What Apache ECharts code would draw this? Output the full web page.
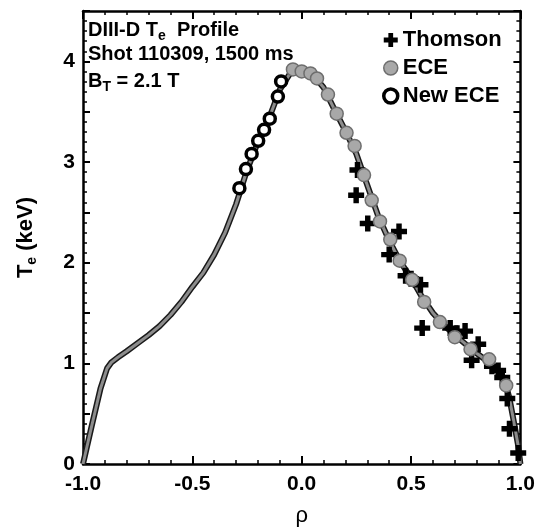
<!DOCTYPE html>
<html>
<head>
<meta charset="utf-8">
<script src="https://cdn.jsdelivr.net/npm/echarts@6/dist/echarts.min.js"></script>
<style>
html,body{margin:0;padding:0;background:#fff;}
#chart{width:538px;height:532px;}
</style>
</head>
<body>
<div id="chart"></div>
<script>
// Fitted profile curve
const fitRho = [-1.0,-0.96,-0.92,-0.89,-0.87,-0.84,-0.80,-0.75,-0.70,-0.65,-0.60,-0.55,-0.50,-0.45,-0.40,-0.35,-0.30,-0.25,-0.20,-0.15,-0.10,-0.05,0.0,0.05,0.10,0.15,0.20,0.25,0.30,0.35,0.40,0.45,0.50,0.55,0.60,0.65,0.70,0.75,0.80,0.85,0.90,0.93,0.95,0.97,0.99,1.0];
const fitTe  = [0.0,0.38,0.75,0.95,1.01,1.06,1.12,1.20,1.28,1.37,1.48,1.61,1.76,1.90,2.08,2.30,2.58,2.92,3.20,3.43,3.72,3.89,3.92,3.87,3.74,3.52,3.31,3.08,2.77,2.46,2.22,2.01,1.85,1.66,1.50,1.38,1.28,1.19,1.10,1.02,0.92,0.82,0.65,0.42,0.18,0.0];
// Thomson scattering
const thomsonRho = [0.255,0.249,0.302,0.445,0.400,0.475,0.500,0.543,0.551,0.679,0.710,0.747,0.807,0.777,0.870,0.898,0.917,0.940,0.950,0.990];
const thomsonTe  = [2.92,2.67,2.39,2.31,2.08,1.87,1.84,1.78,1.35,1.35,1.30,1.32,1.19,1.03,0.97,0.93,0.86,0.65,0.35,0.11];
// ECE
const eceRho = [-0.04,0.0,0.04,0.07,0.12,0.16,0.205,0.242,0.285,0.32,0.358,0.405,0.448,0.505,0.56,0.632,0.70,0.772,0.857,0.935];
const eceTe  = [3.92,3.90,3.88,3.83,3.67,3.48,3.29,3.16,2.87,2.62,2.41,2.23,2.02,1.83,1.61,1.41,1.26,1.14,1.04,0.78];
// New ECE
const newEceRho = [-0.285,-0.255,-0.229,-0.199,-0.172,-0.146,-0.109,-0.094];
const newEceTe  = [2.74,2.93,3.08,3.21,3.32,3.43,3.65,3.80];
// Axis ticks
const xTicks = [-1.0,-0.5,0.0,0.5,1.0];
const yTicks = [0,1,2,3,4];

const zip = (a,b) => a.map((v,i)=>[v,b[i]]);
const FONT = "'Liberation Sans', Arial, sans-serif";

const chart = echarts.init(document.getElementById('chart'), null, {renderer:'canvas'});

const axisLineStyle = {color:'#000', width:2.5};
function xAx(pos, labels){
  return {
    type:'value', min:-1, max:1, interval:0.5, position:pos,
    axisLine:{show:true, onZero:false, lineStyle:axisLineStyle},
    axisTick:{show:true, inside:true, length:8, lineStyle:{color:'#000', width:2}},
    minorTick:{show:true, splitNumber:5, length:4, lineStyle:{color:'#000', width:1.5}},
    splitLine:{show:false},
    axisLabel:{show:labels, margin:10, color:'#000', fontSize:21, fontWeight:'bold', fontFamily:FONT,
      formatter:v => xTicks.some(t=>Math.abs(t-v)<1e-9) ? v.toFixed(1) : ''},
    name: labels ? 'ρ' : '', nameLocation:'middle', nameGap:41,
    nameTextStyle:{color:'#000', fontSize:22, fontFamily:FONT}
  };
}
function yAx(pos, labels){
  return {
    type:'value', min:0, max:4.5, interval:0.5, position:pos,
    axisLine:{show:true, onZero:false, lineStyle:axisLineStyle},
    axisTick:{show:true, inside:true, length:7, lineStyle:{color:'#000', width:2}},
    minorTick:{show:true, splitNumber:5, length:4, lineStyle:{color:'#000', width:1.5}},
    splitLine:{show:false},
    axisLabel:{show:labels, margin:8, color:'#000', fontSize:21, fontWeight:'bold', fontFamily:FONT,
      formatter:v => yTicks.includes(v) ? String(v) : ''},
    name: labels ? 'T{sub|e} (keV)' : '', nameLocation:'middle', nameGap:46, nameRotate:90,
    nameTextStyle:{color:'#000', fontSize:22, fontWeight:'bold', fontFamily:FONT,
      rich:{sub:{fontSize:14, fontWeight:'bold', fontFamily:FONT, color:'#000', padding:[12,0,0,0], lineHeight:14}}}
  };
}

const plusPath = 'path://M33,0H67V33H100V67H67V100H33V67H0V33H33Z';

chart.setOption({
  animation:false,
  backgroundColor:'#fff',
  textStyle:{fontFamily:FONT},
  grid:{left:83, right:13, top:11, bottom:60, containLabel:false},
  xAxis:[xAx('bottom', true), xAx('top', false)],
  yAxis:[yAx('left', true), yAx('right', false)],
  legend:{
    data:[
      {name:'Thomson'},
      {name:'ECE', itemStyle:{borderWidth:1.5}},
      {name:'New ECE', itemStyle:{borderWidth:3.5, borderColor:'#000', color:'#fff'}}
    ],
    orient:'vertical', left:377, top:24,
    itemWidth:14, itemHeight:14, itemGap:6,
    textStyle:{color:'#000', fontSize:22, fontWeight:'bold', fontFamily:FONT, lineHeight:22},
    selectedMode:false
  },
  graphic:[
    {type:'text', left:88, top:17, silent:true,
      style:{text:'DIII-D T{sub|e}  Profile', fill:'#000', font:"bold 20px 'Liberation Sans', Arial",
        rich:{sub:{fontSize:14, fontWeight:'bold', fill:'#000', padding:[12,0,0,0], lineHeight:14}}}},
    {type:'text', left:88, top:44, silent:true,
      style:{text:'Shot 110309, 1500 ms', fill:'#000', font:"bold 20px 'Liberation Sans', Arial"}},
    {type:'text', left:88, top:68, silent:true,
      style:{text:'B{sub|T} = 2.1 T', fill:'#000', font:"bold 20px 'Liberation Sans', Arial",
        rich:{sub:{fontSize:14, fontWeight:'bold', fill:'#000', padding:[12,0,0,0], lineHeight:14}}}}
  ],
  series:[
    {name:'fit-outer', type:'line', data:zip(fitRho, fitTe), showSymbol:false, silent:true,
      lineStyle:{color:'#1a1a1a', width:6}, z:1},
    {name:'fit', type:'line', data:zip(fitRho, fitTe), showSymbol:false, silent:true,
      lineStyle:{color:'#8c8c8c', width:3}, z:2},
    {name:'Thomson', type:'scatter', data:zip(thomsonRho, thomsonTe), symbol:plusPath, symbolSize:16,
      itemStyle:{color:'#000', opacity:1}, z:3},
    {name:'ECE', type:'scatter', data:zip(eceRho, eceTe), symbol:'circle', symbolSize:13,
      itemStyle:{color:'#a8a8a8', borderColor:'#6e6e6e', borderWidth:1.5, opacity:1}, z:4},
    {name:'New ECE', type:'scatter', data:zip(newEceRho, newEceTe), symbol:'circle', symbolSize:11,
      itemStyle:{color:'#fff', borderColor:'#000', borderWidth:3.5, opacity:1}, z:5}
  ]
});
</script>
</body>
</html>
